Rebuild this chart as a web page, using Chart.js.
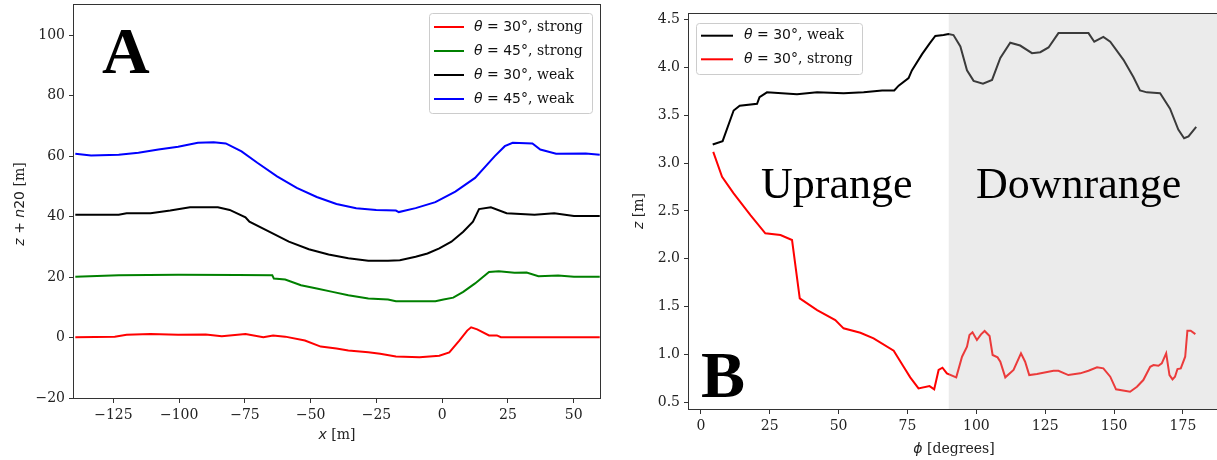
<!DOCTYPE html>
<html>
<head>
<meta charset="utf-8">
<script src="https://cdn.jsdelivr.net/npm/chart.js@4.4.0/dist/chart.umd.min.js"></script>
<style>
    html, body { margin: 0; padding: 0; background: #fff; overflow: hidden; width: 1217px; height: 460px; }
    #wrap-a { position: absolute; left: 0; top: 0; width: 610px; height: 460px; }
    #wrap-b { position: absolute; left: 610px; top: 0; width: 620px; height: 460px; }
</style>
</head>
<body>
<div id="wrap-a"><canvas id="chart-a" width="610" height="460"></canvas></div>
<div id="wrap-b"><canvas id="chart-b" width="620" height="460"></canvas></div>
<script>
// --- Panel A data (x [m], z + n20 [m]) ---
const aXTicks = [-125, -100, -75, -50, -25, 0, 25, 50];
const aYTicks = [-20, 0, 20, 40, 60, 80, 100];

const aRedX = [-139.5, -124.5, -120, -110.9, -100.4, -89.9, -83.8, -74.8, -68.0, -64.3, -59.7, -52.2, -46.2, -40.2, -35.7, -28.1, -23.6, -17.6, -8.6, -1.1, 2.7, 6.5, 9.5, 11.0, 13.3, 17.8, 20.8, 22.3, 59.9];
const aRedY = [0.1, 0.3, 0.9, 1.2, 0.9, 1.0, 0.4, 1.2, 0.1, 0.7, 0.3, -1.0, -3.0, -3.6, -4.3, -4.9, -5.4, -6.3, -6.5, -6.0, -4.9, -1.0, 2.3, 3.4, 2.7, 0.7, 0.7, 0.1, 0.1];

const aGreenX = [-139.5, -123, -100.4, -77.8, -64.6, -64.0, -59.7, -53.7, -47.7, -41.7, -35.7, -28.1, -20.6, -17.6, -10.1, -2.6, 0.5, 4.2, 8.0, 12.5, 17.8, 21.5, 27.5, 32.1, 36.6, 44.1, 50.1, 59.9];
const aGreenY = [20.1, 20.6, 20.8, 20.7, 20.6, 19.5, 19.2, 17.3, 16.2, 15.1, 14.0, 12.9, 12.6, 12.0, 12.0, 12.0, 12.6, 13.2, 15.1, 17.9, 21.7, 21.9, 21.4, 21.5, 20.3, 20.5, 20.1, 20.1];

const aBlackX = [-139.5, -123, -120, -110.9, -103.4, -95.9, -85.3, -80.8, -74.8, -73.3, -65.8, -58.3, -50.7, -43.2, -35.7, -28.1, -20.6, -16.1, -10.1, -5.6, -1.1, 3.5, 8.0, 11.7, 14.0, 18.5, 24.5, 35.1, 42.6, 50.1, 59.9];
const aBlackY = [40.6, 40.6, 41.1, 41.1, 42.0, 43.1, 43.1, 42.2, 39.8, 38.3, 35.0, 31.7, 29.2, 27.5, 26.2, 25.4, 25.4, 25.6, 26.7, 27.8, 29.5, 31.7, 35.0, 38.3, 42.5, 43.1, 41.1, 40.6, 41.1, 40.2, 40.2];

const aBlueX = [-139.5, -133.5, -123, -115.5, -107.9, -100.4, -92.9, -86.9, -82.3, -76.3, -70.3, -62.8, -55.3, -47.7, -40.2, -32.7, -25.1, -17.6, -16.5, -10.1, -2.6, 5.0, 12.5, 20.0, 23.8, 26.8, 34.3, 37.3, 43.3, 54.6, 59.9];
const aBlueY = [60.8, 60.2, 60.5, 61.1, 62.2, 63.1, 64.4, 64.6, 64.2, 61.6, 57.8, 53.3, 49.5, 46.5, 44.2, 42.8, 42.2, 42.0, 41.5, 42.8, 44.8, 48.3, 52.8, 60.0, 63.3, 64.4, 64.2, 62.2, 60.8, 60.9, 60.5];

// --- Panel B data (phi [degrees], z [m]) ---
const bXTicks = [0, 25, 50, 75, 100, 125, 150, 175];
const bYTicks = [0.5, 1.0, 1.5, 2.0, 2.5, 3.0, 3.5, 4.0, 4.5];
const downrangeStart = 90;

const bWeakX = [4.3, 7.9, 11.9, 14.1, 20.4, 21.3, 24.0, 34.9, 42.2, 51.8, 59.1, 65.8, 70.2, 71.8, 75.4, 76.6, 80.3, 83.0, 85.1, 88.1, 89.9, 91.7, 94.2, 96.6, 99.0, 102.4, 105.7, 108.7, 112.3, 115.9, 120.2, 123.2, 126.2, 129.8, 135.3, 140.7, 142.8, 146.1, 148.6, 153.4, 157.0, 159.4, 161.9, 166.7, 170.3, 173.3, 175.4, 177.0, 179.8];
const bWeakY = [3.195, 3.23, 3.55, 3.60, 3.62, 3.69, 3.74, 3.72, 3.74, 3.73, 3.74, 3.76, 3.76, 3.81, 3.89, 3.97, 4.14, 4.25, 4.33, 4.34, 4.35, 4.34, 4.22, 3.97, 3.86, 3.83, 3.87, 4.10, 4.26, 4.23, 4.15, 4.16, 4.21, 4.36, 4.36, 4.36, 4.27, 4.32, 4.27, 4.08, 3.90, 3.76, 3.74, 3.73, 3.57, 3.35, 3.26, 3.28, 3.38];

const bStrongX = [4.5, 7.7, 11.9, 18.0, 23.4, 28.9, 33.1, 35.9, 42.2, 48.8, 51.8, 57.9, 62.7, 70.0, 73.6, 76.0, 79.0, 83.0, 84.7, 86.3, 87.7, 89.3, 92.7, 94.8, 96.6, 97.5, 98.6, 100.2, 101.7, 103.0, 104.8, 105.9, 107.7, 108.7, 110.5, 113.5, 116.2, 117.7, 119.2, 122.0, 128.0, 129.8, 133.4, 137.7, 140.7, 143.8, 146.1, 148.6, 150.7, 155.8, 158.3, 160.6, 163.1, 164.3, 166.1, 167.3, 168.9, 170.1, 171.2, 172.1, 173.0, 174.2, 175.8, 176.6, 177.8, 179.5];
const bStrongY = [3.118, 2.857, 2.683, 2.456, 2.265, 2.247, 2.195, 1.585, 1.462, 1.358, 1.271, 1.225, 1.166, 1.037, 0.869, 0.758, 0.643, 0.667, 0.633, 0.835, 0.859, 0.80, 0.758, 0.974, 1.078, 1.201, 1.229, 1.149, 1.208, 1.243, 1.190, 0.992, 0.967, 0.922, 0.758, 0.835, 1.009, 0.922, 0.782, 0.793, 0.827, 0.827, 0.782, 0.80, 0.827, 0.863, 0.852, 0.765, 0.633, 0.608, 0.66, 0.73, 0.869, 0.887, 0.88, 0.905, 1.009, 0.782, 0.737, 0.765, 0.845, 0.852, 0.974, 1.246, 1.246, 1.211];

// --- Helpers ---
const FRAME = '#333';
const SERIF = 'DejaVu Serif';
const SANS = 'DejaVu Sans';
const tickFont = { family: SERIF, size: 14 };

const pts = (xs, ys) => xs.map((x, i) => ({ x: x, y: ys[i] }));
const minus = v => String(v).replace('-', '\u2212');

function line(label, color, xs, ys) {
    return { label: label, data: pts(xs, ys), borderColor: color, backgroundColor: color, borderWidth: 2, pointRadius: 0, tension: 0, fill: false };
}

// draw text made of pieces with different fonts
function drawRich(ctx, parts, x, y, align) {
    let w = 0;
    parts.forEach(p => { ctx.font = p.f; w += ctx.measureText(p.t).width; });
    let cx = align === 'center' ? x - w / 2 : x;
    ctx.textBaseline = 'middle';
    ctx.textAlign = 'left';
    parts.forEach(p => { ctx.font = p.f; ctx.fillText(p.t, cx, y); cx += ctx.measureText(p.t).width; });
}

// "θ = 30°, strong" -> math part in sans, rest in serif
function labelParts(label) {
    const i = label.indexOf(',');
    return [
        { t: label[0], f: 'italic 14px ' + SANS },
        { t: label.slice(1, i), f: '14px ' + SANS },
        { t: label.slice(i), f: '14px ' + SERIF }
    ];
}

function drawLegend(chart, L) {
    const ctx = chart.ctx;
    ctx.save();
    ctx.beginPath();
    ctx.roundRect(L.x + 0.5, L.y + 0.5, L.w, L.h, 3);
    ctx.fillStyle = 'rgba(255,255,255,0.8)';
    ctx.fill();
    ctx.strokeStyle = '#cccccc';
    ctx.lineWidth = 1;
    ctx.stroke();
    chart.data.datasets.forEach((ds, i) => {
        const cy = L.y + L.first + i * L.step;
        ctx.beginPath();
        ctx.moveTo(L.x + 5, cy);
        ctx.lineTo(L.x + 5 + L.sample, cy);
        ctx.strokeStyle = ds.borderColor;
        ctx.lineWidth = 2;
        ctx.stroke();
        ctx.fillStyle = '#111';
        drawRich(ctx, labelParts(ds.label), L.x + 5 + L.sample + L.gap, cy, 'left');
    });
    ctx.restore();
}

function drawFrame(chart) {
    const a = chart.chartArea, ctx = chart.ctx;
    ctx.save();
    ctx.strokeStyle = FRAME;
    ctx.lineWidth = 1;
    ctx.strokeRect(Math.round(a.left) - 0.5, Math.round(a.top) - 0.5, Math.round(a.right - a.left) + 1, Math.round(a.bottom - a.top) + 1);
    ctx.restore();
}

function axisOpts(min, max, ticks, fmt, fit) {
    return {
        type: 'linear', min: min, max: max,
        afterBuildTicks: s => { s.ticks = ticks.map(v => ({ value: v })); },
        afterFit: fit,
        grid: { drawOnChartArea: false, drawTicks: true, tickLength: 5, color: FRAME },
        border: { display: false },
        ticks: { font: tickFont, color: '#222', padding: 4, maxRotation: 0, autoSkip: false, callback: fmt }
    };
}

// fixed axis sizes so the plot box lands where the reference has it
const fitX = h => s => { s.height = h; s.paddingLeft = 0; s.paddingRight = 0; };
const fitY = w => s => { s.width = w; s.paddingTop = 0; s.paddingBottom = 0; };

// --- Panel A ---
const decoA = {
    id: 'decoA',
    afterDraw(chart) {
        const ctx = chart.ctx;
        drawFrame(chart);
        ctx.save();
        ctx.fillStyle = '#000';
        ctx.font = 'bold 66px "Liberation Serif"';
        ctx.textBaseline = 'alphabetic';
        ctx.fillText('A', 102, 73);
        ctx.fillStyle = '#222';
        drawRich(ctx, [{ t: 'x', f: 'italic 14px ' + SANS }, { t: ' [m]', f: '14px ' + SERIF }], 337, 435, 'center');
        ctx.translate(20, 204);
        ctx.rotate(-Math.PI / 2);
        drawRich(ctx, [
            { t: 'z', f: 'italic 14px ' + SANS }, { t: ' + ', f: '14px ' + SANS },
            { t: 'n', f: 'italic 14px ' + SANS }, { t: '20', f: '14px ' + SANS },
            { t: ' [m]', f: '14px ' + SERIF }
        ], 0, 0, 'center');
        ctx.restore();
        drawLegend(chart, { x: 429, y: 13, w: 163, h: 100, first: 14, step: 24, sample: 30, gap: 10 });
    }
};

new Chart(document.getElementById('chart-a'), {
    type: 'line',
    data: {
        datasets: [
            line('\u03B8 = 30\u00B0, strong', '#ff0000', aRedX, aRedY),
            line('\u03B8 = 45\u00B0, strong', '#008000', aGreenX, aGreenY),
            line('\u03B8 = 30\u00B0, weak', '#000000', aBlackX, aBlackY),
            line('\u03B8 = 45\u00B0, weak', '#0000ff', aBlueX, aBlueY)
        ]
    },
    options: {
        responsive: false, animation: false, devicePixelRatio: 1,
        layout: { padding: { top: 5, right: 10, left: 0, bottom: 0 } },
        plugins: { legend: { display: false }, tooltip: { enabled: false } },
        scales: {
            x: axisOpts(-140, 60, aXTicks, v => minus(v), fitX(62)),
            y: axisOpts(-20, 110, aYTicks, v => minus(v), fitY(74))
        }
    },
    plugins: [decoA]
});

// --- Panel B ---
const decoB = {
    id: 'decoB',
    afterDatasetsDraw(chart) {
        const a = chart.chartArea, ctx = chart.ctx;
        const x0 = chart.scales.x.getPixelForValue(downrangeStart);
        ctx.save();
        ctx.fillStyle = 'rgba(190,190,190,0.31)';
        ctx.fillRect(x0, a.top, a.right - x0, a.bottom - a.top);
        ctx.restore();
    },
    afterDraw(chart) {
        const ctx = chart.ctx;
        drawFrame(chart);
        ctx.save();
        ctx.fillStyle = '#000';
        ctx.textBaseline = 'alphabetic';
        ctx.font = '44px "Liberation Serif"';
        ctx.fillText('Uprange', 151, 198);
        ctx.fillText('Downrange', 366, 198);
        ctx.font = 'bold 66px "Liberation Serif"';
        ctx.fillText('B', 91, 397);
        ctx.fillStyle = '#222';
        drawRich(ctx, [{ t: '\u03D5', f: 'italic 14px ' + SANS }, { t: ' [degrees]', f: '14px ' + SERIF }], 344, 449, 'center');
        ctx.translate(29, 211);
        ctx.rotate(-Math.PI / 2);
        drawRich(ctx, [{ t: 'z', f: 'italic 14px ' + SANS }, { t: ' [m]', f: '14px ' + SERIF }], 0, 0, 'center');
        ctx.restore();
        drawLegend(chart, { x: 86, y: 23, w: 166, h: 51, first: 12.7, step: 23.6, sample: 32, gap: 11 });
    }
};

new Chart(document.getElementById('chart-b'), {
    type: 'line',
    data: {
        datasets: [
            line('\u03B8 = 30\u00B0, weak', '#000000', bWeakX, bWeakY),
            line('\u03B8 = 30\u00B0, strong', '#ff0000', bStrongX, bStrongY)
        ]
    },
    options: {
        responsive: false, animation: false, devicePixelRatio: 1,
        layout: { padding: { top: 14, right: 9, left: 0, bottom: 0 } },
        plugins: { legend: { display: false }, tooltip: { enabled: false } },
        scales: {
            x: axisOpts(-4.3, 188.8, bXTicks, v => String(v), fitX(51)),
            y: axisOpts(0.427, 4.56, bYTicks, v => Number(v).toFixed(1), fitY(79))
        }
    },
    plugins: [decoB]
});
</script>
</body>
</html>
